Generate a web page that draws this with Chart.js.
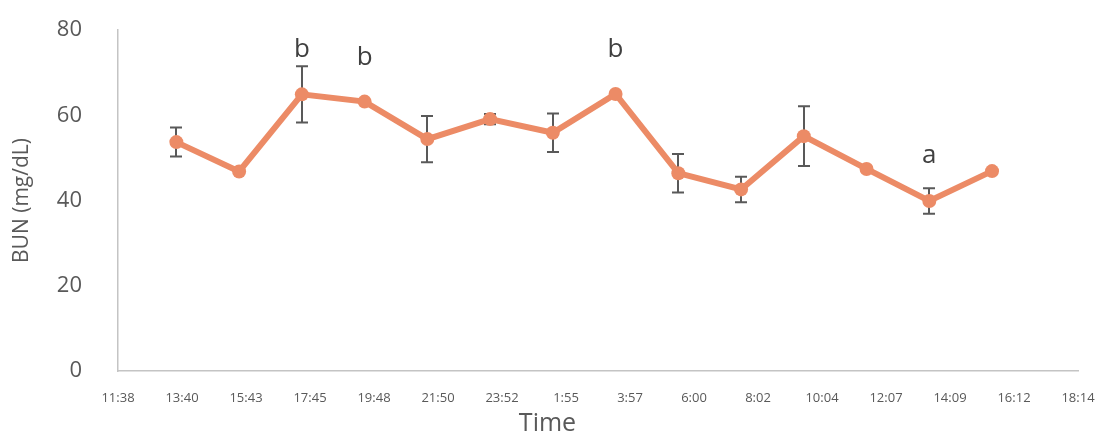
<!DOCTYPE html>
<html>
<head>
<meta charset="utf-8">
<title>BUN</title>
<script src="https://cdn.jsdelivr.net/npm/chart.js@4.4.1/dist/chart.umd.min.js"></script>
<style>
  html, body { margin: 0; padding: 0; background: #fff; }
</style>
</head>
<body>
<canvas id="line-chart" width="1095" height="434"></canvas>
<script>
// sampling times, in hours from midnight of day 1
const times = [13.5, 15.5, 17.5, 19.5, 21.5, 23.5, 25.5, 27.5, 29.5, 31.5, 33.5, 35.5, 37.5, 39.5];
const bun = [53.7, 46.8, 64.9, 63.2, 54.4, 59.1, 55.9, 65.0, 46.4, 42.6, 55.1, 47.4, 39.9, 46.9];
const bunErr = [3.4, 0, 6.6, 0, 5.4, 1.2, 4.5, 0, 4.5, 3.0, 7.0, 0, 3.0, 0];
// significance letters and the height (mg/dL) where they sit
const sigLetters = ['', '', 'b', 'b', '', '', '', 'b', '', '', '', '', 'a', ''];
const letterLevel = [null, null, 73.7, 71.8, null, null, null, 73.6, null, null, null, null, 48.7, null];
// x axis ticks (hours) and their labels
const xTickHours = [11.64, 13.68, 15.72, 17.76, 19.80, 21.84, 23.88, 25.92, 27.96, 30.00, 32.04, 34.08, 36.12, 38.16, 40.20, 42.24];
const xTickLabels = ['11:38', '13:40', '15:43', '17:45', '19:48', '21:50', '23:52', '1:55', '3:57', '6:00', '8:02', '10:04', '12:07', '14:09', '16:12', '18:14'];
const yTicks = [0, 20, 40, 60, 80];

const FONT = "'Open Sans', 'DejaVu Sans', sans-serif";
const TEXT = '#595959';
const LINE = '#EC8B66';

var ctx = document.getElementById('line-chart');

// error bars, drawn under the line and markers
const errorBars = {
  id: 'errorBars',
  beforeDatasetsDraw(chart) {
    const c = chart.ctx;
    const xs = chart.scales.x, ys = chart.scales.y;
    c.save();
    c.strokeStyle = '#595959';
    c.lineWidth = 2;
    for (let i = 0; i < bun.length; i++) {
      if (!bunErr[i]) continue;
      const x = Math.round(xs.getPixelForValue(times[i]));
      const yTop = ys.getPixelForValue(bun[i] + bunErr[i]);
      const yBot = ys.getPixelForValue(bun[i] - bunErr[i]);
      c.beginPath();
      c.moveTo(x, yTop); c.lineTo(x, yBot);
      c.moveTo(x - 6, yTop); c.lineTo(x + 6, yTop);
      c.moveTo(x - 6, yBot); c.lineTo(x + 6, yBot);
      c.stroke();
    }
    c.restore();
  }
};

const letters = {
  id: 'letters',
  afterDatasetsDraw(chart) {
    const c = chart.ctx;
    const xs = chart.scales.x, ys = chart.scales.y;
    c.save();
    c.fillStyle = '#404040';
    c.font = '26px ' + FONT;
    c.textAlign = 'center';
    c.textBaseline = 'alphabetic';
    for (let i = 0; i < sigLetters.length; i++) {
      if (!sigLetters[i]) continue;
      c.fillText(sigLetters[i], xs.getPixelForValue(times[i]), ys.getPixelForValue(letterLevel[i]));
    }
    c.restore();
  }
};

const data = {
  datasets: [{
    label: 'BUN',
    data: times.map(function(t, i) { return { x: t, y: bun[i] }; }),
    borderColor: LINE,
    backgroundColor: LINE,
    borderWidth: 6,
    pointRadius: 7,
    pointHoverRadius: 7,
    pointBorderWidth: 0,
    tension: 0
  }]
};

const config = {
  type: 'line',
  data: data,
  options: {
    responsive: false,
    animation: false,
    layout: { padding: { left: 0, right: 0, top: 30, bottom: 0 } },
    plugins: {
      legend: { display: false },
      tooltip: { enabled: false },
      title: {
        display: true,
        text: 'Time',
        position: 'bottom',
        color: TEXT,
        font: { family: FONT, size: 25, weight: 'normal', lineHeight: 0.8 },
        padding: 0
      }
    },
    scales: {
      x: {
        type: 'linear',
        min: xTickHours[0],
        max: xTickHours[xTickHours.length - 1],
        grid: { display: false, drawTicks: false },
        border: { display: true, color: '#C4C4C4', width: 1.5 },
        afterBuildTicks: function(scale) {
          scale.ticks = xTickHours.map(function(v) { return { value: v }; });
        },
        afterFit: function(scale) {
          scale.height = 43;
          scale.paddingLeft = 0;
          scale.paddingRight = 17;
        },
        ticks: {
          autoSkip: false,
          maxRotation: 0,
          padding: 19,
          color: TEXT,
          font: { family: FONT, size: 13 },
          callback: function(value, index) { return xTickLabels[index]; }
        }
      },
      y: {
        min: yTicks[0],
        max: yTicks[yTicks.length - 1],
        grid: { display: false, drawTicks: false },
        border: { display: true, color: '#C4C4C4', width: 1.5 },
        afterBuildTicks: function(scale) {
          scale.ticks = yTicks.map(function(v) { return { value: v }; });
        },
        afterFit: function(scale) {
          scale.width = 118;
          scale.paddingTop = 0;
          scale.paddingBottom = 0;
        },
        ticks: {
          padding: 36,
          color: TEXT,
          font: { family: FONT, size: 22 }
        },
        title: {
          display: true,
          text: 'BUN (mg/dL)',
          color: TEXT,
          font: { family: FONT, size: 21, lineHeight: 1 },
          padding: { top: 12, bottom: 0 }
        }
      }
    }
  },
  plugins: [errorBars, letters]
};

var chart = new Chart(ctx, config);
</script>
</body>
</html>
